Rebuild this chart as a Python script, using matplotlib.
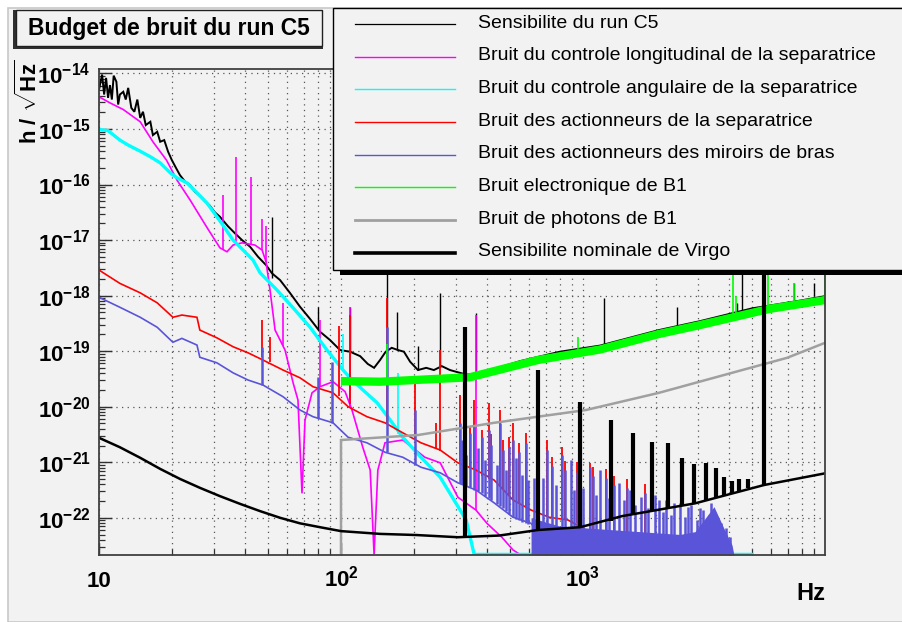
import numpy as np
import matplotlib
matplotlib.use("Agg")
import matplotlib.pyplot as plt
from matplotlib.patches import Rectangle
from matplotlib.lines import Line2D
from matplotlib.ticker import LogLocator, NullFormatter, FixedLocator, FixedFormatter
from matplotlib.transforms import blended_transform_factory

plt.rcParams['font.family'] = ['Liberation Sans', 'DejaVu Sans']
plt.rcParams['mathtext.fontset'] = 'custom'
plt.rcParams['mathtext.rm'] = 'Liberation Sans'
plt.rcParams['mathtext.bf'] = 'Liberation Sans:bold'
plt.rcParams['mathtext.it'] = 'Liberation Sans:italic'

# ---------------- data: frequency [Hz], log10 of h [1/sqrt(Hz)] ----------------
sens_f = [10.0, 10.3, 10.5, 10.7, 10.9, 11.1, 11.3, 11.5, 11.8, 12.0,
          12.2, 12.6, 12.9, 13.2, 13.6, 14.0, 14.4, 14.8, 15.2, 15.6,
          16.3, 16.7, 17.4, 17.9, 18.6, 19.3, 20.0, 20.8, 21.6, 22.7,
          23.8, 24.9, 26.1, 27.4, 28.7, 30.1, 31.6, 34.1, 36.5, 39.0,
          42.1, 45.4, 49.0, 51.9, 56.0, 61.5, 67.7, 74.5, 81.9, 90.1,
          99.1, 109, 120, 129, 137, 145, 153, 162, 172, 182,
          193, 208, 225, 242, 261, 282, 304, 329, 375, 549,
          803, 1175, 2061, 3043, 4992, 7885, 10000]
sens_h = [-14.29, -14.02, -14.38, -14.08, -14.44, -14.21, -14.47, -14.04, -14.15, -14.56,
          -14.38, -14.33, -14.47, -14.26, -14.62, -14.69, -14.47, -14.80, -14.69, -14.93,
          -14.87, -15.11, -15.05, -15.23, -15.20, -15.41, -15.56, -15.70, -15.83, -15.95,
          -16.01, -16.13, -16.20, -16.30, -16.38, -16.50, -16.58, -16.75, -16.88, -17.00,
          -17.12, -17.30, -17.45, -17.60, -17.72, -17.95, -18.20, -18.42, -18.65, -18.80,
          -18.98, -19.01, -19.09, -19.23, -19.30, -19.16, -19.01, -18.94, -18.98, -19.01,
          -19.19, -19.34, -19.30, -19.34, -19.27, -19.34, -19.38, -19.42, -19.40, -19.18,
          -19.01, -18.90, -18.62, -18.46, -18.23, -18.09, -18.01]
sens_spike_f = [51.9, 80.4, 109, 155, 170, 208, 257, 361, 1222, 2445, 4327, 4541, 7450, 9020]
sens_spike_lo = [-17.68, -18.60, -19.01, -19.01, -18.98, -19.34, -19.27, -19.40, -18.88, -18.60, -18.35, -18.35, -18.10, -18.00]
sens_spike_hi = [-16.58, -18.21, -18.21, -17.30, -18.29, -18.90, -17.95, -18.31, -18.04, -18.21, -18.14, -17.30, -17.77, -17.77]

mag_f = [10, 11.1, 12.6, 14.8, 16.7, 19.0, 21.0, 23.8, 27.9, 31.6,
         33.8, 35.8, 39.0, 44.1, 47.2, 49.0, 50.9, 53.4, 56.0, 58.7,
         63.4, 66.4, 69.0, 71.0, 75.9, 81.9, 92.7, 104, 111, 123,
         132, 137, 142, 152, 180, 222, 257, 304, 361, 401,
         462, 514, 549]
mag_h = [-14.42, -14.53, -14.65, -14.87, -15.23, -15.56, -15.92, -16.28, -16.77, -17.14,
         -17.21, -17.09, -17.05, -17.09, -17.18, -17.39, -17.90, -18.62, -18.80, -18.98,
         -19.57, -19.88, -21.56, -20.24, -19.75, -19.64, -19.55, -19.73, -20.06, -20.73,
         -21.14, -22.66, -21.14, -20.65, -20.60, -20.91, -21.01, -21.63, -21.86, -22.10,
         -22.35, -22.58, -22.66]
mag_spike_f = [32.5, 36.8, 42.5, 47.2, 49.0, 57.6, 82.0, 109, 361]
mag_spike_lo = [-17.18, -17.09, -17.09, -17.18, -17.39, -18.90, -19.64, -20.00, -21.86]
mag_spike_hi = [-16.19, -15.50, -15.86, -16.62, -16.75, -18.14, -18.44, -18.21, -18.35]

cyan_f = [10, 10.9, 12.2, 13.2, 14.8, 16.3, 17.9, 19.7, 21.0, 23.1,
          25.4, 27.9, 30.7, 32.5, 35.8, 39.4, 43.3, 46.3, 54.4, 63.4,
          74.5, 87.5, 102, 111, 141, 156, 180, 214, 257, 293,
          329, 355, 4990]
cyan_h = [-15.01, -15.03, -15.20, -15.29, -15.40, -15.50, -15.61, -15.79, -15.88, -15.97,
          -16.15, -16.33, -16.58, -16.73, -17.00, -17.18, -17.36, -17.59, -17.90, -18.22,
          -18.57, -18.98, -19.34, -19.52, -19.93, -20.18, -20.55, -20.91, -21.27, -21.68,
          -22.04, -22.66, -22.66]
cyan_spike_f = [102, 155, 172]
cyan_spike_lo = [-19.35, -20.20, -20.50]
cyan_spike_hi = [-18.70, -19.29, -19.40]

red_f = [10, 12.2, 14.8, 17.4, 20.2, 22.0, 25.4, 26.1, 30.7, 35.8,
         41.3, 47.6, 57.6, 67.7, 76.6, 92.7, 107, 128, 152, 180,
         214, 257, 304, 361, 429, 514, 610, 724, 867, 1028,
         1500, 1800]
red_h = [-17.54, -17.78, -17.95, -18.13, -18.39, -18.35, -18.39, -18.62, -18.76, -18.92,
         -19.03, -19.16, -19.34, -19.48, -19.64, -19.75, -20.00, -20.18, -20.29, -20.47,
         -20.65, -20.78, -21.01, -21.14, -21.32, -21.68, -21.86, -21.99, -22.04, -22.22,
         -22.45, -22.66]
red_spike_f = [47.2, 50.9, 98, 109, 155, 203, 247, 257, 310, 341, 355, 383, 409, 417, 454, 467,
               495, 514, 544, 581, 646, 710, 745, 819, 843, 945, 1069, 1100, 1245, 1343, 1520, 1804]
red_spike_lo = [-19.10, -19.20, -19.80, -19.95, -20.30, -20.60, -20.75, -20.80, -21.00, -21.10,
                -21.10, -21.25, -21.30, -21.30, -21.45, -21.50, -21.60, -21.65, -21.72, -21.78,
                -21.90, -21.95, -22.00, -22.02, -22.03, -22.10, -22.20, -22.25, -22.30, -22.35,
                -22.40, -22.45]
red_spike_hi = [-18.44, -18.75, -18.55, -18.35, -18.05, -19.52, -20.29, -18.98, -19.79, -20.35,
                -19.88, -20.42, -19.93, -20.50, -20.06, -20.60, -20.55, -20.29, -20.65, -20.47,
                -20.80, -20.60, -20.90, -20.73, -20.98, -21.00, -21.01, -21.08, -21.12, -21.25,
                -21.30, -21.40]

blue_f = [10, 12.2, 14.8, 17.4, 20.2, 22.0, 25.4, 26.1, 30.7, 35.8,
          41.3, 47.6, 57.6, 67.7, 76.6, 92.7, 107, 128, 152, 180,
          214, 257, 304, 361, 429, 514, 610, 664]
blue_h = [-18.03, -18.21, -18.39, -18.57, -18.84, -18.77, -18.89, -19.11, -19.21, -19.39,
          -19.52, -19.61, -19.82, -20.06, -20.18, -20.29, -20.55, -20.65, -20.82, -20.91,
          -21.09, -21.19, -21.37, -21.50, -21.73, -21.99, -22.10, -22.31]
blue_forest_f = [610, 803, 1175, 1722, 2516, 2904, 3477, 3830, 4128, 4200]
blue_forest_h = [-22.00, -22.15, -22.20, -22.25, -22.30, -22.25, -21.80, -22.20, -22.49, -22.66]
blue_spike_f = [47.2, 80, 92, 155, 203, 310, 316, 329, 341, 355, 368, 383, 394, 409, 417,
                441, 454, 467, 481, 495, 514, 528, 544, 560, 581, 593, 628, 646, 684, 710,
                745, 773, 819, 843, 891, 918, 945, 1000, 1069, 1100, 1132, 1175, 1245, 1280,
                1343, 1410, 1477, 1520, 1563, 1641, 1738, 1804, 1857, 1986, 2061, 2143, 2205,
                2313, 2377, 2516, 2638, 2716, 2793, 2958, 3043, 3133, 3319, 3381, 3614, 3719,
                3899, 4050]
blue_spike_lo = [-19.61, -20.20, -20.30, -20.82, -21.05, -21.37, -21.39, -21.42, -21.45, -21.50,
                 -21.52, -21.55, -21.60, -21.65, -21.68, -21.75, -21.78, -21.82, -21.88, -21.93,
                 -21.99, -22.02, -22.04, -22.07, -22.10, -22.12, -22.20, -22.25, -22.66, -22.66,
                 -22.66, -22.66, -22.66, -22.66, -22.66, -22.66, -22.66, -22.66, -22.66, -22.66,
                 -22.66, -22.66, -22.66, -22.66, -22.66, -22.66, -22.66, -22.66, -22.66, -22.66,
                 -22.66, -22.66, -22.66, -22.66, -22.66, -22.66, -22.66, -22.66, -22.66, -22.66,
                 -22.66, -22.66, -22.66, -22.66, -22.66, -22.66, -22.66, -22.66, -22.66, -22.66,
                 -22.66, -22.66]
blue_spike_hi = [-18.93, -19.47, -19.20, -18.56, -20.06, -20.29, -20.60, -20.87, -20.47, -20.36,
                 -20.75, -20.55, -20.96, -20.42, -20.69, -21.05, -20.29, -20.78, -21.14, -20.73,
                 -20.60, -20.93, -20.82, -21.23, -20.65, -21.32, -21.28, -20.96, -21.28, -20.78,
                 -21.07, -21.41, -20.87, -21.14, -20.96, -21.50, -21.18, -21.46, -21.09, -21.25,
                 -21.59, -21.14, -21.28, -21.64, -21.41, -21.37, -21.68, -21.46, -21.50, -21.77,
                 -21.63, -21.56, -21.82, -21.59, -21.68, -21.90, -21.68, -21.95, -21.73, -21.73,
                 -21.99, -21.80, -21.77, -22.04, -21.82, -21.86, -21.95, -21.73, -22.04, -22.10,
                 -22.19, -22.35]

green_f = [104, 145, 200, 341, 650, 1175, 2061, 3043, 5870, 10000]
green_h = [-19.54, -19.55, -19.52, -19.47, -19.16, -18.97, -18.69, -18.53, -18.24, -18.08]
green_spike_f = [155, 953, 4168, 4288, 5809, 7450, 10000]
green_spike_lo = [-19.50, -19.00, -18.40, -18.40, -18.25, -18.15, -18.10]
green_spike_hi = [-18.87, -18.75, -17.30, -18.00, -17.30, -17.77, -17.30]

gray_f = [100, 100, 208, 429, 1028, 2061, 4128, 6970, 10000]
gray_h = [-22.66, -20.60, -20.51, -20.29, -20.06, -19.75, -19.39, -19.12, -18.85]

nom_f = [10, 12.2, 14.8, 17.9, 21.6, 26.1, 31.6, 38.3, 46.3, 56,
         67.7, 82, 100, 145, 204, 304, 450, 652, 972, 1450,
         2904, 5600, 10000]
nom_h = [-20.56, -20.73, -20.92, -21.12, -21.30, -21.46, -21.61, -21.75, -21.88, -22.00,
         -22.10, -22.17, -22.24, -22.29, -22.31, -22.35, -22.32, -22.22, -22.17, -21.97,
         -21.74, -21.41, -21.20]
nom_spike_f = [325, 652, 973, 1306, 1610, 1928, 2244, 2566, 2877, 3223, 3548, 3830, 4130, 4420, 4810, 5600]
nom_spike_lo = [-22.35, -22.22, -22.17, -22.05, -21.95, -21.87, -21.82, -21.78, -21.74, -21.69,
                -21.63, -21.59, -21.55, -21.51, -21.47, -21.41]
nom_spike_hi = [-18.57, -19.34, -19.92, -20.24, -20.47, -20.64, -20.66, -20.93, -21.04, -21.01,
                -21.10, -21.27, -21.34, -21.30, -21.30, -16.50]

legend_labels = ["Sensibilite du run C5",
                 "Bruit du controle longitudinal de la separatrice",
                 "Bruit du controle angulaire de la separatrice",
                 "Bruit des actionneurs de la separatrice",
                 "Bruit des actionneurs des miroirs de bras",
                 "Bruit electronique de B1",
                 "Bruit de photons de B1",
                 "Sensibilite nominale de Virgo"]
title_text = "Budget de bruit du run C5"
x_tick_values = [10, 100, 1000]
x_tick_labels = ["10", r"$\mathbf{10^{2}}$", r"$\mathbf{10^{3}}$"]
y_tick_exponents = [-22, -21, -20, -19, -18, -17, -16, -15, -14]

# ---------------- styles ----------------
C_BLACK = "#000000"
C_MAG = "#ff00ff"
C_CYAN = "#00ffff"
C_RED = "#ff0000"
C_BLUE = "#5954d8"
C_GREEN = "#00ff00"
C_GRAY = "#a0a0a0"
BG = "#f2f2f2"
LOG_YMIN, LOG_YMAX = -22.67, -13.92

W, H = 903, 622
fig = plt.figure(figsize=(W / 100, H / 100), dpi=100, facecolor="white")


def fx(px):
    return px / W


def fy(py):
    return 1 - py / H


# canvas pad
fig.add_artist(Rectangle((fx(8), 0), 1 - fx(8), fy(8), transform=fig.transFigure,
                         facecolor=BG, edgecolor="#c8c8c8", lw=1.2, zorder=0))

ax = fig.add_axes([fx(99), fy(555), fx(825) - fx(99), fy(69) - fy(555)])
ax.set_facecolor(BG)
ax.set_xscale("log")
ax.set_yscale("log")
ax.set_xlim(10, 10000)
ax.set_ylim(10 ** LOG_YMIN, 10 ** LOG_YMAX)


def p10(v):
    return np.power(10.0, np.asarray(v, dtype=float))


def draw(f, h, color, lw, z, sf=None, slo=None, shi=None, slw=None):
    ax.plot(f, p10(h), color=color, lw=lw, zorder=z, solid_joinstyle="miter")
    if sf is not None:
        ax.vlines(sf, p10(slo), p10(shi), color=color, lw=slw or lw, zorder=z)


draw(sens_f, sens_h, C_BLACK, 1.4, 3.0, sens_spike_f, sens_spike_lo, sens_spike_hi, 1.0)
draw(mag_f, mag_h, C_MAG, 1.2, 3.1, mag_spike_f, mag_spike_lo, mag_spike_hi)
draw(cyan_f, cyan_h, C_CYAN, 2.4, 3.2, cyan_spike_f, cyan_spike_lo, cyan_spike_hi, 1.2)
draw(red_f, red_h, C_RED, 1.2, 3.3, red_spike_f, red_spike_lo, red_spike_hi, 1.3)
ax.fill_between(blue_forest_f, 10 ** LOG_YMIN, p10(blue_forest_h), color=C_BLUE, lw=0, zorder=3.4)
draw(blue_f, blue_h, C_BLUE, 1.2, 3.4, blue_spike_f, blue_spike_lo, blue_spike_hi, 1.8)
draw(green_f, green_h, C_GREEN, 6.0, 3.5, green_spike_f, green_spike_lo, green_spike_hi, 1.2)
draw(gray_f, gray_h, C_GRAY, 1.8, 3.6)
draw(nom_f, nom_h, C_BLACK, 1.8, 3.7, nom_spike_f, nom_spike_lo, nom_spike_hi, 3.0)

# axes, ticks and grid
for s in ax.spines.values():
    s.set_color("#404040")
    s.set_linewidth(1.3)
    s.set_zorder(5)
ax.set_axisbelow(True)
ax.xaxis.set_major_locator(FixedLocator(x_tick_values))
ax.xaxis.set_minor_locator(LogLocator(base=10, subs=np.arange(2, 10)))
ax.xaxis.set_major_formatter(NullFormatter())
ax.xaxis.set_minor_formatter(NullFormatter())
ax.yaxis.set_major_locator(FixedLocator(p10(y_tick_exponents)))
ax.yaxis.set_minor_locator(LogLocator(base=10, subs=np.arange(2, 10), numticks=30))
ax.yaxis.set_major_formatter(FixedFormatter([r"$\mathbf{10^{%d}}$" % e for e in y_tick_exponents]))
ax.yaxis.set_minor_formatter(NullFormatter())
ax.tick_params(which="major", direction="in", length=9, width=1.0, color="#303030",
               labelsize=16, pad=6, left=True, bottom=True, right=False, top=False)
ax.tick_params(which="minor", direction="in", length=4.5, width=0.9, color="#303030",
               left=True, bottom=True, right=False, top=False)
ax.grid(True, axis="x", which="both", color="#555555", lw=0.9, ls=(0, (1, 3.5)))
ax.grid(True, axis="y", which="major", color="#555555", lw=0.9, ls=(0, (1, 3.5)))

xt = blended_transform_factory(ax.transData, ax.transAxes)
for v, lab in zip(x_tick_values, x_tick_labels):
    ax.text(v, (555 - 587) / (555 - 69), lab, transform=xt, ha="center", va="baseline",
            fontsize=16, fontweight="bold")

fig.text(fx(825), fy(593), "Hz", ha="right", va="center", fontsize=17, fontweight="bold")
fig.text(fx(29), fy(102), r"$\mathbf{h\ /\ }\sqrt{\mathbf{Hz}}$", rotation=90,
         ha="center", va="center", fontsize=16)

# title box
fig.add_artist(Rectangle((fx(13), fy(49)), fx(310), fy(10) - fy(49), transform=fig.transFigure,
                         facecolor="#303030", edgecolor="none", zorder=6))
fig.add_artist(Rectangle((fx(16), fy(46)), fx(306), fy(10) - fy(46), transform=fig.transFigure,
                         facecolor=BG, edgecolor="#202020", lw=1.0, zorder=6))
fig.text(fx(169), fy(28), title_text, ha="center", va="center", fontsize=16.5,
         fontweight="bold", zorder=7)

# legend box
fig.add_artist(Rectangle((fx(340), fy(275)), 1.1, fy(14) - fy(275), transform=fig.transFigure,
                         facecolor="#000000", edgecolor="none", zorder=6))
fig.add_artist(Rectangle((fx(333), fy(270)), 1.1, fy(8) - fy(270), transform=fig.transFigure,
                         facecolor=BG, edgecolor="#000000", lw=1.0, zorder=6))
leg_colors = [C_BLACK, C_MAG, C_CYAN, C_RED, C_BLUE, C_GREEN, C_GRAY, C_BLACK]
leg_widths = [0.9, 1.0, 1.0, 1.0, 1.0, 1.0, 2.0, 2.6]
for i, (lab, c, w) in enumerate(zip(legend_labels, leg_colors, leg_widths)):
    yl = 24 + 32.7 * i
    fig.add_artist(Line2D([fx(355), fx(455)], [fy(yl), fy(yl)], transform=fig.transFigure,
                          color=c, lw=w, zorder=7))
    fig.text(fx(478), fy(yl - 1), lab, ha="left", va="center", fontsize=14, zorder=7)

fig.savefig("out.png", dpi=100, facecolor="white")
